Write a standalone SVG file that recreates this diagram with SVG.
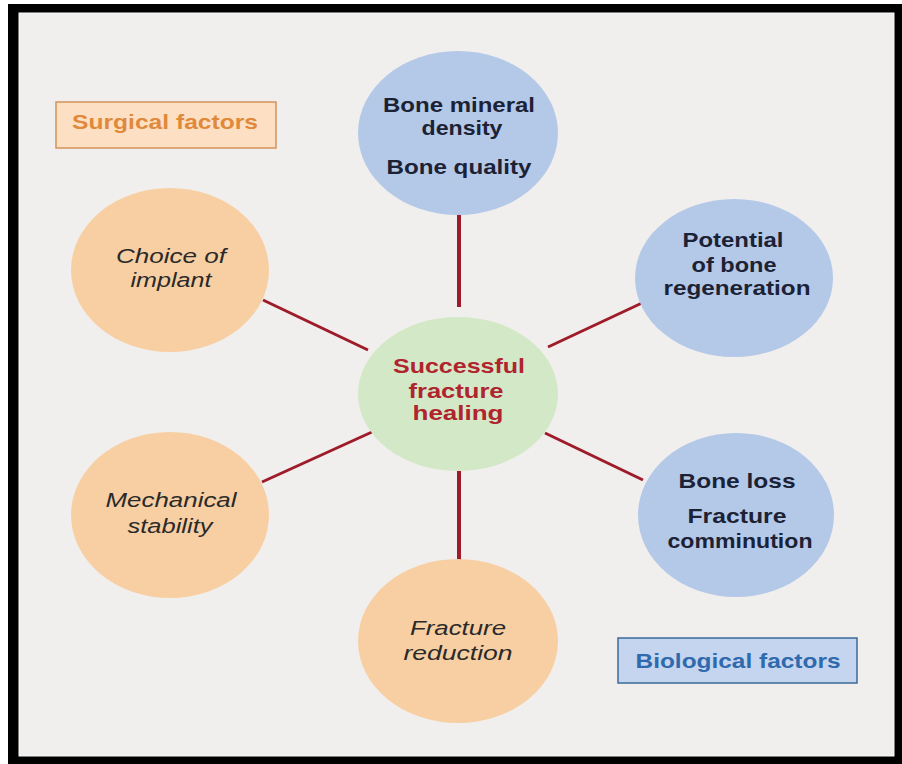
<svg xmlns="http://www.w3.org/2000/svg" width="902" height="764" viewBox="0 0 902 764">
<style>
.blue{fill:#b4c8e8}
.orange{fill:#f8cfa3}
.green{fill:#d3e8c6}
.t{font-family:"Liberation Sans",Arial,sans-serif;font-size:21px;text-anchor:middle}
.tb{font-weight:bold;fill:#1c2235}
.ti{font-style:italic;fill:#2a2a2a;font-size:20px}
.tc{font-weight:bold;fill:#b0242e}
.conn line{stroke:#9e1b2a;stroke-width:3;stroke-linecap:butt}
</style>
<rect x="0" y="0" width="902" height="764" fill="#ffffff"/>
<rect x="8" y="4" width="894" height="760" fill="#000000"/>
<rect x="19" y="13" width="875" height="743" fill="#f0efed" stroke="#fafafa" stroke-width="1"/>
<g id="connectors" class="conn">
<line x1="459" y1="215" x2="459" y2="307" style="stroke-width:4"/>
<line x1="459" y1="471" x2="459" y2="560" style="stroke-width:4"/>
<line x1="263" y1="300" x2="368" y2="350"/>
<line x1="642" y1="303" x2="548" y2="347"/>
<line x1="262" y1="482" x2="372" y2="432"/>
<line x1="545" y1="433" x2="643" y2="480"/>
</g>
<g id="label-surgical">
<rect x="56" y="102" width="220" height="46" fill="#fde0c4" stroke="#d4935a" stroke-width="1.5"/>
<text class="t" x="165" y="129" font-weight="bold" fill="#e0893a" textLength="186" lengthAdjust="spacingAndGlyphs">Surgical factors</text>
</g>
<g id="label-biological">
<rect x="618" y="638" width="239" height="45" fill="#c5d5ef" stroke="#3a6a9a" stroke-width="1.5"/>
<text class="t" x="738" y="668" font-weight="bold" fill="#2e6aad" textLength="205" lengthAdjust="spacingAndGlyphs">Biological factors</text>
</g>
<g id="node-bmd">
<ellipse class="blue" cx="458" cy="133" rx="100" ry="82"/>
<text class="t tb" x="459" y="112" textLength="152" lengthAdjust="spacingAndGlyphs">Bone mineral</text>
<text class="t tb" x="462" y="135" textLength="81" lengthAdjust="spacingAndGlyphs">density</text>
<text class="t tb" x="459" y="174" textLength="145" lengthAdjust="spacingAndGlyphs">Bone quality</text>
</g>
<g id="node-potential">
<ellipse class="blue" cx="734" cy="278" rx="99" ry="79"/>
<text class="t tb" x="733" y="247" textLength="101" lengthAdjust="spacingAndGlyphs">Potential</text>
<text class="t tb" x="734" y="272" textLength="85" lengthAdjust="spacingAndGlyphs">of bone</text>
<text class="t tb" x="737" y="295" textLength="147" lengthAdjust="spacingAndGlyphs">regeneration</text>
</g>
<g id="node-boneloss">
<ellipse class="blue" cx="736" cy="515" rx="98" ry="82"/>
<text class="t tb" x="737" y="488" textLength="117" lengthAdjust="spacingAndGlyphs">Bone loss</text>
<text class="t tb" x="737" y="523" textLength="99" lengthAdjust="spacingAndGlyphs">Fracture</text>
<text class="t tb" x="740" y="548" textLength="145" lengthAdjust="spacingAndGlyphs">comminution</text>
</g>
<g id="node-center">
<ellipse class="green" cx="458" cy="394" rx="100" ry="77"/>
<text class="t tc" x="459" y="373" textLength="132" lengthAdjust="spacingAndGlyphs">Successful</text>
<text class="t tc" x="456" y="398" textLength="95" lengthAdjust="spacingAndGlyphs">fracture</text>
<text class="t tc" x="458" y="420" textLength="91" lengthAdjust="spacingAndGlyphs">healing</text>
</g>
<g id="node-implant">
<ellipse class="orange" cx="170" cy="270" rx="99" ry="82"/>
<text class="t ti" x="171" y="263" textLength="110" lengthAdjust="spacingAndGlyphs">Choice of</text>
<text class="t ti" x="171" y="287" textLength="81" lengthAdjust="spacingAndGlyphs">implant</text>
</g>
<g id="node-mechanical">
<ellipse class="orange" cx="170" cy="515" rx="99" ry="83"/>
<text class="t ti" x="171" y="507" textLength="131" lengthAdjust="spacingAndGlyphs">Mechanical</text>
<text class="t ti" x="170" y="533" textLength="85" lengthAdjust="spacingAndGlyphs">stability</text>
</g>
<g id="node-reduction">
<ellipse class="orange" cx="458" cy="641" rx="100" ry="82"/>
<text class="t ti" x="458" y="635" textLength="96" lengthAdjust="spacingAndGlyphs">Fracture</text>
<text class="t ti" x="458" y="660" textLength="109" lengthAdjust="spacingAndGlyphs">reduction</text>
</g>
</svg>
